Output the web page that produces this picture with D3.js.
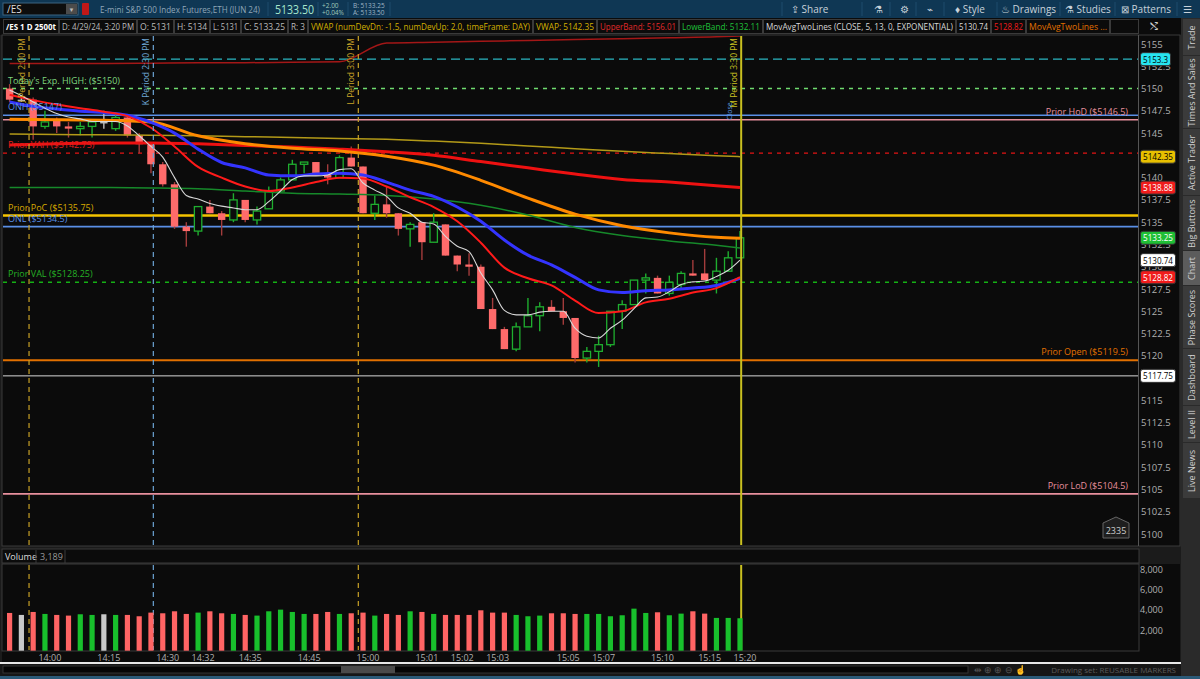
<!DOCTYPE html>
<html>
<head>
<meta charset="utf-8">
<script src="https://cdn.jsdelivr.net/npm/d3@7/dist/d3.min.js"></script>
<style>
body{margin:0;background:#1b1b1b;overflow:hidden}
svg{display:block;font-family:"Open Sans","Noto Sans",sans-serif}
</style>
</head>
<body>
<script>
// ---- candle data (2500 tick bars, /ES 4/29/24) ----
const opens  = [5150,5148.75,5148.75,5145.75,5146.5,5145.75,5145.5,5145.75,5146.25,5145.5,
                5146.75,5144.75,5143.75,5141.5,5139.25,5134.5,5134,5136.75,5136,5135.25,
                5137.5,5135.25,5136.5,5138.5,5139.75,5141.5,5141.75,5140.5,5140,5142.25,
                5141.25,5136,5137,5136,5134.25,5135,5132.75,5134.75,5131.25,5130.25,
                5130,5125.25,5123,5120.75,5123.25,5124.5,5125.5,5125,5124.25,5119.75,
                5120.5,5121.25,5125,5125.75,5128.5,5128.75,5127,5128,5129.25,5129.25,
                5128.5,5129.5,5131];
const highs  = [5150.5,5149.25,5149,5147.5,5146.75,5146.25,5146.25,5146.5,5147.5,5147,
                5147,5145,5144,5141.75,5139.5,5135,5136.75,5137.5,5136.25,5138.25,
                5137.5,5136.75,5139,5140,5142,5141.75,5141.75,5141.5,5142.5,5143.5,
                5141.25,5138,5139,5136,5135,5135,5136,5134.75,5131.25,5131.5,
                5130.25,5126.5,5123.25,5123.75,5126.5,5126,5126.25,5126.5,5124.25,5121,
                5122.25,5125,5126.25,5128.5,5129.25,5129,5129,5129.5,5130.75,5132,
                5131,5131.75,5134];
const lows   = [5148.5,5148.5,5144.25,5145.5,5145,5144.5,5144.75,5144.5,5145.5,5145.25,
                5144.5,5142.75,5140.5,5139,5134.25,5132.25,5133.5,5136,5133.5,5135,
                5135,5134.75,5136.5,5138.5,5139.75,5140.5,5140.25,5139.25,5140,5141.25,
                5136,5135.25,5135.5,5133.5,5132.25,5130.75,5132.75,5131.25,5129.5,5129,
                5125.25,5123,5120.75,5120.5,5123.25,5122.75,5125,5123.5,5119.25,5119.25,
                5118.75,5121,5123,5125.75,5127,5127,5126.75,5127.5,5129,5128.5,
                5127,5129.5,5131];
const closes = [5148.75,5148.75,5145.75,5146.25,5145.75,5145.5,5145.75,5146.25,5146.25,5146.75,
                5144.75,5143.75,5141.5,5139.25,5134.5,5134,5136.75,5136,5135.25,5137.5,
                5135.25,5136.25,5138.5,5139.75,5141.5,5141.75,5140.25,5140,5142.25,5141.25,
                5136,5137,5136,5134.25,5134.75,5132.75,5135,5131.25,5130.25,5130,
                5125.25,5123,5120.75,5123.25,5124.5,5125.5,5125,5124.25,5119.75,5120.5,
                5121.25,5125,5125.75,5128.5,5128.75,5127,5128.25,5129.25,5129,5128.5,
                5129.5,5131,5133.25];

// volume per bar and its tick direction (u = up, d = down, n = unchanged)
const volumes = [3710,3515,3808,3613,3515,3450,3580,3515,3580,3515,
                 3515,3385,3743,3678,3873,3613,3743,3873,3678,3613,
                 3515,3450,3873,4036,3808,3613,3613,3808,3613,3678,
                 3743,3450,3613,3515,3873,3808,3613,3515,3515,3515,
                 3971,3743,3743,3515,3385,3450,3678,3678,3613,3613,
                 3613,3385,3483,4133,3710,3775,3483,3645,3873,3645,
                 3223,3223,3189];
const volDir = ['d','n','d','u','d','d','u','u','n','u',
                'd','d','d','d','d','d','u','d','d','u',
                'd','u','u','u','u','u','d','d','u','d',
                'd','u','d','d','u','d','u','d','d','d',
                'd','d','d','u','u','u','d','d','d','u',
                'u','u','u','u','u','d','u','u','d','d',
                'u','u','u'];

// time axis labels (bar index -> label)
const timeIdx    = [3,8,13,16,20,25,30,35,38,41,47,50,55,59,62];
const timeLabels = ['14:00','14:15','14:30','14:32','14:35','14:45','15:00','15:01','15:02','15:03','15:05','15:07','15:10','15:15','15:20'];

// studies
const ema5 = [5149.8,5149.2,5148.5,5147.8,5147.2,5146.8,5146.6,5146.3,5146.3,5146.3,
              5145.8,5144.7,5143.5,5142.3,5140.0,5138.0,5137.6,5137.1,5136.8,5136.6,
              5136.4,5136.4,5137.3,5138.5,5139.8,5140.2,5140.2,5140.3,5140.9,5141.0,
              5139.4,5138.6,5137.9,5136.6,5136.0,5135.0,5134.8,5133.4,5132.3,5131.7,
              5129.3,5127.4,5125.1,5124.6,5124.6,5124.9,5125.0,5125.0,5123.1,5122.2,
              5122.0,5123.1,5124.0,5125.3,5126.5,5126.6,5127.2,5128.0,5128.3,5128.4,
              5128.9,5129.6,5130.74];
const midIdx = [0,2,4,6,8,10,12,14,16,18,20,22,24,26,28,30,32,34,36,38,40,42,44,46,48,50,52,54,56,58,60,62];
const ema13  = [5149.3,5148.7,5148.2,5147.8,5147.4,5146.9,5145.6,5143.5,5141.2,5140.0,5139.0,5138.5,5138.9,5139.5,5140.0,5139.9,
                5139.0,5137.8,5136.7,5135.1,5132.7,5129.9,5128.7,5127.9,5126.2,5124.8,5125.0,5126.0,5126.4,5127.1,5127.6,5128.82];
const blueMa = [5148.5,5148.0,5147.7,5147.45,5147.3,5147.0,5146.2,5145.0,5143.2,5141.7,5141.1,5140.3,5140.2,5140.4,5140.5,5140.3,
                5139.5,5138.6,5137.9,5136.7,5135.1,5133.0,5131.3,5130.2,5128.8,5127.4,5127.1,5127.3,5127.4,5127.6,5127.9,5128.7];
const slowIdx   = [0,4,8,12,16,20,24,28,32,36,40,44,48,52,56,60,62];
const orangeMa  = [5146.55,5146.5,5146.45,5146.25,5144.7,5143.8,5143.3,5143.0,5142.4,5141.4,5139.7,5137.7,5135.9,5134.6,5133.8,5133.3,5133.2];
const slowRedMa = [5143.65,5143.8,5143.9,5143.9,5143.8,5143.6,5143.45,5143.2,5142.9,5142.5,5141.8,5141.1,5140.4,5139.8,5139.5,5139.1,5138.88];
const vwap      = [5144.9,5144.85,5144.8,5144.75,5144.7,5144.6,5144.5,5144.4,5144.3,5144.1,5143.85,5143.55,5143.25,5142.95,5142.7,5142.45,5142.35];
const lowerBand = [5138.9,5138.9,5138.9,5138.85,5138.75,5138.5,5138.25,5138.15,5138.0,5137.6,5136.9,5135.8,5134.4,5133.5,5132.9,5132.4,5132.11];
const upperBand = [5152.8,5152.8,5152.8,5152.85,5152.9,5152.9,5152.95,5153.0,5155.1,5155.2,5155.3,5155.4,5155.5,5155.6,5155.7,5155.8,5155.9];

// price levels drawn on the chart
const levelValues = [5153.3,5150,5147,5146.5,5142.75,5135.75,5134.5,5128.25,5119.5,5117.75,5104.5];
const leftNotes   = [["Today's Exp. HIGH: ($5150)",5150],["ONH ($5147)",5147],["Prior VAH ($5142.75)",5142.75],
                     ["Prior PoC ($5135.75)",5135.75],["ONL ($5134.5)",5134.5],["Prior VAL ($5128.25)",5128.25]];
const rightNotes  = [["Prior HoD ($5146.5)",5146.5],["Prior Open ($5119.5)",5119.5],["Prior LoD ($5104.5)",5104.5]];
// 5142.5 sits fully under the VWAP bubble, so it is not listed
const priceTicks  = [5155,5152.5,5150,5147.5,5145,5140,5137.5,5135,5132.5,5130,5127.5,5125,5122.5,5120,5117.5,5115,5112.5,5110,5107.5,5105,5102.5,5100];
const bubbles     = [5153.3,5142.35,5138.88,5133.25,5130.74,5128.82,5117.75];
const periods     = [["J Period 2:00 PM",1.65],["K Period 2:30 PM",12.2],["L Period 3:00 PM",29.6],["M Period 3:30 PM",62.1]];
const volTicks    = [2000,4000,6000,8000];
const sideTabs    = ["Trade","Times And Sales","Active Trader","Big Buttons","Chart","Phase Scores","Dashboard","Level II","Live News"];

// ---- styles ----
const levelStyle = [
  {c:"#2bb7c2",w:1.3,d:"9,5"},{c:"#6fdc6f",w:1.5,d:"4,5"},{c:"#5a8fe6",w:1.6},{c:"#e8909e",w:1.6},
  {c:"#e31414",w:1.3,d:"4,5"},{c:"#f5c400",w:2.4},{c:"#5a8fe6",w:1.6},{c:"#15b015",w:1.5,d:"4,5"},
  {c:"#e27000",w:2},{c:"#d8d8d8",w:1},{c:"#e8909e",w:1.6}];
const leftNoteColors  = ["#7fd67f","#5a8fe6","#e02020","#d8aa00","#5a8fe6","#25b025"];
const rightNoteColors = ["#e8909e","#e27000","#e8909e"];
const bubbleFill = ["#27e5f0","#e8c000","#f01c1c","#1fbf35","#ffffff","#f01c1c","#ffffff"];
const bubbleText = ["#000","#000","#fff","#fff","#000","#fff","#000"];
const periodColors = ["#c9a227","#6ea6d6","#c9a227","#c9c020"];

const W = 1200, H = 679;
const svg = d3.select("body").append("svg").attr("width",W).attr("height",H);

const x = d3.scaleLinear().domain([0,62]).range([9.6,740]);
const y = d3.scaleLinear().domain([5100,5155]).range([534,44]);
const yv = d3.scaleLinear().domain([0,8000]).range([650.7,569.3]);

// squeeze a text into a given width if it runs over
function fit(sel, maxW){
  const n = sel.node();
  if (n.getComputedTextLength() > maxW) sel.attr("textLength",maxW).attr("lengthAdjust","spacingAndGlyphs");
  return sel;
}

// ---- frame ----
svg.append("rect").attr("width",W).attr("height",H).attr("fill","#1b1b1b");
svg.append("rect").attr("width",W).attr("height",18).attr("fill","#0f3754");
svg.append("rect").attr("x",0).attr("y",18).attr("width",1181).attr("height",17).attr("fill","#0b0b0b");
svg.append("rect").attr("x",2).attr("y",35).attr("width",1178).attr("height",511).attr("fill","#0b0b0b").attr("stroke","#3b3b3b");
svg.append("rect").attr("x",2).attr("y",549).attr("width",1137).attr("height",14).attr("fill","#0b0b0b").attr("stroke","#3b3b3b");
svg.append("rect").attr("x",2).attr("y",564).attr("width",1178).attr("height",98).attr("fill","#0b0b0b");
svg.append("rect").attr("x",2).attr("y",564).attr("width",1137).attr("height",87).attr("fill","none").attr("stroke","#3b3b3b");
svg.append("line").attr("x1",1138.5).attr("x2",1138.5).attr("y1",35).attr("y2",546).attr("stroke","#555");
svg.append("rect").attr("x",0).attr("y",662).attr("width",1181).attr("height",2).attr("fill","#e8e8e8");
svg.append("rect").attr("x",0).attr("y",664).attr("width",1181).attr("height",12).attr("fill","#161616");
svg.append("rect").attr("x",3).attr("y",666).attr("width",965).attr("height",7).attr("fill","#050505").attr("stroke","#333");
svg.append("rect").attr("x",341).attr("y",666).attr("width",54).attr("height",7).attr("fill","#4a4a4a");
svg.append("rect").attr("x",0).attr("y",676).attr("width",W).attr("height",3).attr("fill","#2b5a78");
svg.append("text").attr("x",1176).attr("y",673).attr("text-anchor","end").attr("font-size",8).attr("fill","#5a5a5a").text("Drawing set: REUSABLE MARKERS");
svg.append("text").attr("x",1000).attr("y",673).attr("text-anchor","middle").attr("font-size",9).attr("fill","#555").text("⇹  ⊕  ⊕  ⊖  ☝");

// ---- top bar ----
const topBar = svg.append("g").attr("font-size",10);
topBar.append("rect").attr("x",3).attr("y",3).attr("width",75).attr("height",12).attr("fill","#0d0d0d").attr("stroke","#3d6580");
topBar.append("text").attr("x",7).attr("y",13).attr("fill","#ddd").text("/ES");
topBar.append("rect").attr("x",66).attr("y",4).attr("width",11).attr("height",10).attr("fill","#4b4b4b");
topBar.append("text").attr("x",71.5).attr("y",12).attr("text-anchor","middle").attr("font-size",6).attr("fill","#bbb").text("▼");
topBar.append("rect").attr("x",82).attr("y",3).attr("width",7).attr("height",12).attr("rx",1).attr("fill","#c01818");
fit(topBar.append("text").attr("x",100).attr("y",13).attr("font-size",9.5).attr("fill","#8fa6b8").text("E-mini S&P 500 Index Futures,ETH (JUN 24)"),160);
fit(topBar.append("text").attr("x",275).attr("y",14).attr("font-size",13).attr("fill","#a6e6cc").text("5133.50"),39);
topBar.append("text").attr("x",322).attr("y",8).attr("font-size",6.5).attr("fill","#9fc8b8").text("+2.00");
topBar.append("text").attr("x",322).attr("y",15).attr("font-size",6.5).attr("fill","#9fc8b8").text("+0.04%");
topBar.append("text").attr("x",353).attr("y",8).attr("font-size",6.5).attr("fill","#9fb5c5").text("B: 5133.25");
topBar.append("text").attr("x",353).attr("y",15).attr("font-size",6.5).attr("fill","#9fb5c5").text("A: 5133.50");
[268,318,348,390].forEach(v=>topBar.append("line").attr("x1",v).attr("x2",v).attr("y1",2).attr("y2",16).attr("stroke","#1f4d6c"));
const tools = [["⇪ Share",791],["⚗",874],["⚙",900],["⌁",927],["♦ Style",955],["♨ Drawings",1001],["⚗ Studies",1065],["⊠ Patterns",1121],["☰",1183]];
tools.forEach(t=>topBar.append("text").attr("x",t[1]).attr("y",13).attr("fill","#c8d2da").text(t[0]));
[782,862,890,916,944,997,1060,1115,1177].forEach(v=>topBar.append("line").attr("x1",v).attr("x2",v).attr("y1",2).attr("y2",16).attr("stroke","#1f4d6c"));

// ---- info row ----
const info = [["/ES 1 D 2500t",3,58,"#fff"],["D: 4/29/24, 3:20 PM",59,136,"#bbb"],["O: 5131",137,173,"#bbb"],["H: 5134",174,209,"#bbb"],
  ["L: 5131",210,240,"#bbb"],["C: 5133.25",241,287,"#bbb"],["R: 3",288,307,"#bbb"],
  ["VWAP (numDevDn: -1.5, numDevUp: 2.0, timeFrame: DAY)",308,532,"#d4b000"],["VWAP: 5142.35",533,596,"#d4b000"],
  ["UpperBand: 5156.01",597,678,"#e02a2a"],["LowerBand: 5132.11",679,762,"#1fc03a"],
  ["MovAvgTwoLines (CLOSE, 5, 13, 0, EXPONENTIAL)",763,955,"#d8d8d8"],["5130.74",956,990,"#d8d8d8"],
  ["5128.82",991,1025,"#f01c1c"],["MovAvgTwoLines ...",1026,1109,"#e27000"],["",1110,1138,"#bbb"]];
const ig = svg.append("g").attr("font-size",8.8);
info.forEach(d=>{
  ig.append("rect").attr("x",d[1]+0.5).attr("y",19.5).attr("width",d[2]-d[1]).attr("height",14).attr("fill","#0b0b0b").attr("stroke","#3a3a3a");
  if (!d[0]) return;
  fit(ig.append("text").attr("x",(d[1]+d[2])/2+0.5).attr("y",30).attr("text-anchor","middle").attr("fill",d[3])
    .attr("font-weight",d[0].startsWith("/ES")?"bold":null).text(d[0]), d[2]-d[1]-5);
});
ig.append("text").attr("x",1150).attr("y",30).attr("fill","#ccc").attr("font-size",10).text("⤭");

// ---- right sidebar ----
const side = svg.append("g");
side.append("rect").attr("x",1181).attr("y",18).attr("width",19).attr("height",658).attr("fill","#2a2a2a");
const tabEdges = [19,56,129,196,251,286,349,406,443,499];
sideTabs.forEach((t,i)=>{
  const a = tabEdges[i], b = tabEdges[i+1];
  side.append("rect").attr("x",1183).attr("y",a).attr("width",17).attr("height",b-a-1)
    .attr("fill",t==="Chart"?"#5c5c5c":"#3b3b3b");
  side.append("text").attr("transform",`translate(1195,${(a+b)/2}) rotate(-90)`).attr("text-anchor","middle")
    .attr("font-size",9).attr("fill","#cfcfcf").text(t);
});

// ---- chart ----
svg.append("clipPath").attr("id","pc").append("rect").attr("x",3).attr("y",36).attr("width",1135).attr("height",509);
const plot = svg.append("g").attr("clip-path","url(#pc)");

// period lines
const vg = svg.append("g");
periods.forEach((p,i)=>{
  const px = x(p[1]);
  [[36,545],[565,650]].forEach(r=>{
    vg.append("line").attr("x1",px).attr("x2",px).attr("y1",r[0]).attr("y2",r[1])
      .attr("stroke",periodColors[i]).attr("stroke-width",i===3?2:1.2).attr("stroke-dasharray",i===3?null:"5,4");
  });
  vg.append("text").attr("transform",`translate(${px-4},38) rotate(-90)`).attr("text-anchor","end")
    .attr("font-size",8.5).attr("fill",periodColors[i]).text(p[0]);
});
vg.append("text").attr("transform",`translate(${x(62.1)-9},120) rotate(-90)`).attr("text-anchor","start")
  .attr("font-size",7).attr("fill","#5f9be0").text("Close");

// price level lines
levelValues.forEach((v,i)=>{
  const s = levelStyle[i];
  plot.append("line").attr("x1",3).attr("x2",1138).attr("y1",y(v)).attr("y2",y(v))
    .attr("stroke",s.c).attr("stroke-width",s.w).attr("stroke-dasharray",s.d||null);
});

// candles
const cg = plot.append("g");
opens.forEach((o,i)=>{
  const c = closes[i], up = c>o, flat = c===o;
  const col = flat ? "#bdbdbd" : up ? "#1fae2f" : "#ff6b6b";
  cg.append("line").attr("x1",x(i)).attr("x2",x(i)).attr("y1",y(highs[i])).attr("y2",y(lows[i]))
    .attr("stroke",flat?"#bdbdbd":up?"#1fae2f":"#a33c3c").attr("stroke-width",1.4);
  const bt = y(Math.max(o,c)), h = Math.max(1.5,y(Math.min(o,c))-bt);
  cg.append("rect").attr("x",x(i)-3.7).attr("y",bt).attr("width",7.4).attr("height",h)
    .attr("fill",up?"#0b0b0b":col).attr("stroke",up?col:"none").attr("stroke-width",1.3);
});

// study lines
const line = d3.line().curve(d3.curveMonotoneX);
function study(idx, vals, color, width){
  plot.append("path").attr("d",line(idx.map((k,j)=>[x(k),y(vals[j])])))
    .attr("fill","none").attr("stroke",color).attr("stroke-width",width);
}
const allIdx = closes.map((d,i)=>i);
study(slowIdx, upperBand, "#a31717", 1.5);
study(slowIdx, vwap, "#b39a18", 1.5);
study(slowIdx, lowerBand, "#16892a", 1.5);
study(slowIdx, slowRedMa, "#ee1111", 3);
study(slowIdx, orangeMa, "#ff8a00", 3);
study(midIdx, blueMa, "#3434ff", 3);
study(midIdx, ema13, "#ff1a1a", 2);
study(allIdx, ema5, "#d8d8d8", 1.1);

// notes on the levels
leftNotes.forEach((n,i)=>svg.append("text").attr("x",8).attr("y",y(n[1])-5).attr("font-size",9)
  .attr("fill",leftNoteColors[i]).text(n[0]));
rightNotes.forEach((n,i)=>svg.append("text").attr("x",1128).attr("y",y(n[1])-5).attr("font-size",9)
  .attr("text-anchor","end").attr("fill",rightNoteColors[i]).text(n[0]));

// price axis
const pa = svg.append("g").attr("transform","translate(1138,0)")
  .call(d3.axisRight(y).tickValues(priceTicks).tickSize(0).tickPadding(3).tickFormat(d=>d%1?d.toFixed(1):d));
pa.select(".domain").remove();
pa.selectAll("text").attr("fill","#b0b0b0").attr("font-size",9.5).attr("font-family","'Open Sans',sans-serif");

// price bubbles
bubbles.forEach((v,i)=>{
  const g = svg.append("g").attr("transform",`translate(1140.5,${y(v)})`);
  g.append("rect").attr("x",0).attr("y",-6.5).attr("width",i===0?30:35).attr("height",13).attr("rx",2.5)
    .attr("fill",bubbleFill[i]).attr("stroke","#333");
  fit(g.append("text").attr("x",2.5).attr("y",3.5).attr("font-size",9).attr("fill",bubbleText[i]).text(v), i===0?25:30);
});

// 2335 counter
const cnt = svg.append("g").attr("transform","translate(1103,517)");
cnt.append("path").attr("d","M0,6 L13,0 L26,6 L26,21 L0,21 Z").attr("fill","#1e1e1e").attr("stroke","#666");
cnt.append("text").attr("x",13).attr("y",17).attr("text-anchor","middle").attr("font-size",9).attr("fill","#ccc").text("2335");

// ---- volume ----
svg.append("text").attr("x",5).attr("y",560).attr("font-size",9).attr("fill","#ddd").text("Volume");
svg.append("line").attr("x1",36).attr("x2",36).attr("y1",550).attr("y2",563).attr("stroke","#3b3b3b");
svg.append("text").attr("x",40).attr("y",560).attr("font-size",9).attr("fill","#999").text("3,189");
svg.append("line").attr("x1",65).attr("x2",65).attr("y1",550).attr("y2",563).attr("stroke","#3b3b3b");
const volColor = {u:"#18c02c", d:"#ff6464", n:"#c8c8c8"};
svg.append("g").selectAll("rect").data(volumes).join("rect")
  .attr("x",(d,i)=>x(i)-2.6).attr("width",5.2).attr("y",d=>yv(d)).attr("height",d=>yv(0)-yv(d))
  .attr("fill",(d,i)=>volColor[volDir[i]]);
const va = svg.append("g").attr("transform","translate(1138,0)")
  .call(d3.axisRight(yv).tickValues(volTicks).tickSize(0).tickPadding(2).tickFormat(d3.format(",")));
va.select(".domain").remove();
va.selectAll("text").attr("fill","#b0b0b0").attr("font-size",9).attr("font-family","'Open Sans',sans-serif");

// time axis
svg.append("g").selectAll("text").data(timeIdx).join("text")
  .attr("x",d=>x(d)+5).attr("y",661).attr("text-anchor","middle").attr("font-size",9)
  .attr("fill","#b0b0b0").text((d,i)=>timeLabels[i]);
</script>
</body>
</html>
